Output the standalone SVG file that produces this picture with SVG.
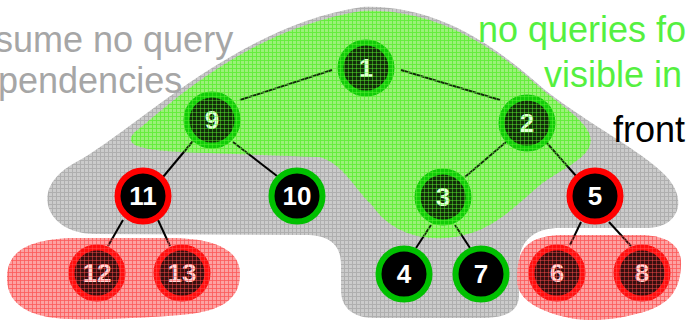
<svg xmlns="http://www.w3.org/2000/svg" width="686" height="326" viewBox="0 0 686 326">
  <defs>
    <pattern id="pGray" width="4" height="4" patternUnits="userSpaceOnUse">
      <rect width="4" height="4" fill="#cbcbcb"/>
      <path d="M0 0.5H4M0.5 0V4" stroke="#afafaf" stroke-width="1"/>
    </pattern>
    <pattern id="pGreenBase" width="4" height="4" patternUnits="userSpaceOnUse">
      <rect width="4" height="4" fill="#a6ee88"/>
      <path d="M0 0.5H4M0.5 0V4" stroke="#74e050" stroke-width="1"/>
    </pattern>
    <pattern id="pGreen" width="4" height="4" patternUnits="userSpaceOnUse">
      <rect width="4" height="4" fill="#66ff33" fill-opacity="0.18"/>
      <path d="M0 0.5H4M0.5 0V4" stroke="#5cf533" stroke-opacity="0.45" stroke-width="1"/>
    </pattern>
    <pattern id="pRedBase" width="4" height="4" patternUnits="userSpaceOnUse">
      <rect width="4" height="4" fill="#fbbcbc"/>
      <path d="M0 0.5H4M0.5 0V4" stroke="#f59090" stroke-width="1"/>
    </pattern>
    <pattern id="pRed" width="4" height="4" patternUnits="userSpaceOnUse">
      <rect width="4" height="4" fill="#ff4444" fill-opacity="0.22"/>
      <path d="M0 0.5H4M0.5 0V4" stroke="#ff4d4d" stroke-opacity="0.45" stroke-width="1"/>
    </pattern>
  </defs>
  <style>
    .edge { stroke: #000; stroke-width: 2; fill: none; }
    .n circle { stroke-width: 6; fill: #000; }
    .ng circle { stroke: #00c000; }
    .nr circle { stroke: #ff0000; }
    .n text { font-family: "Liberation Sans", Arial, sans-serif; font-weight: bold; font-size: 26px; fill: #fff; text-anchor: middle; }
    .big { font-family: "Liberation Sans", Arial, sans-serif; font-size: 36px; }
  </style>

  <!-- regions (base layers) -->
  <path id="grayRegion" fill="url(#pGray)" d="M 48,205 C 44,185 60,170 80,160 C 140,125 240,25 362,7 C 440,4 500,50 545,90 C 590,125 640,150 665,175 C 688,198 680,226 650,228 L 560,228 C 535,228 520,240 519,262 L 519,295 C 519,312 505,318 480,318 L 375,318 C 350,318 341,305 341,290 L 341,265 C 341,245 330,235 305,235 L 95,234 C 70,234 52,222 48,205 Z"/>
  <path id="greenRegionBase" fill="url(#pGreenBase)" d="M 135,132 C 170,105 245,30 362,11 C 440,8 500,52 545,92 C 575,115 595,130 590,145 C 585,160 560,170 540,185 C 510,210 490,235 445,238 C 410,240 385,225 372,205 C 355,190 345,165 320,157 L 180,152 C 140,150 122,145 135,132 Z"/>
  <path id="redRegionLeftBase" fill="url(#pRedBase)" d="M 7,278 C 7,250 30,240 70,238 L 170,238 C 215,238 240,250 240,274 C 240,300 220,312 180,315 C 140,318 100,320 70,319 C 30,318 7,305 7,278 Z"/>
  <path id="redRegionRightBase" fill="url(#pRedBase)" d="M 517,280 C 517,250 525,237 560,235 L 640,235 C 670,235 682,248 681,265 C 680,290 670,305 640,313 C 615,320 590,322 570,318 C 540,312 517,300 517,280 Z"/>

  <g id="connectors">
    <line class="edge" x1="240" y1="100" x2="332" y2="70"/>
    <line class="edge" x1="401" y1="70" x2="500" y2="100"/>
    <line class="edge" x1="193" y1="141" x2="163" y2="177"/>
    <line class="edge" x1="233" y1="142" x2="277" y2="176"/>
    <line class="edge" x1="506" y1="142" x2="465" y2="177"/>
    <line class="edge" x1="546" y1="142" x2="577" y2="177"/>
    <line class="edge" x1="123" y1="220" x2="108" y2="246"/>
    <line class="edge" x1="158" y1="220" x2="170" y2="246"/>
    <line class="edge" x1="431" y1="225" x2="416" y2="248"/>
    <line class="edge" x1="455" y1="225" x2="470" y2="248"/>
    <line class="edge" x1="581" y1="222" x2="570" y2="245"/>
    <line class="edge" x1="609" y1="222" x2="631" y2="246"/>
  </g>

  <g id="node1" class="n ng"><circle cx="366" cy="68" r="25.5"/><text x="366" y="77">1</text></g>
  <g id="node9" class="n ng"><circle cx="212" cy="120" r="25.5"/><text x="212" y="129">9</text></g>
  <g id="node2" class="n ng"><circle cx="527" cy="123" r="25.5"/><text x="527" y="132">2</text></g>
  <g id="node11" class="n nr"><circle cx="143" cy="196" r="25.5"/><text x="143" y="205">11</text></g>
  <g id="node10" class="n ng"><circle cx="297" cy="196" r="25.5"/><text x="297" y="205">10</text></g>
  <g id="node3" class="n ng"><circle cx="443" cy="197" r="25.5"/><text x="443" y="206">3</text></g>
  <g id="node5" class="n nr"><circle cx="595" cy="196" r="25.5"/><text x="595" y="205">5</text></g>
  <g id="node12" class="n nr"><circle cx="97" cy="273" r="25.5"/><text x="97" y="282">12</text></g>
  <g id="node13" class="n nr"><circle cx="182" cy="273" r="25.5"/><text x="182" y="282">13</text></g>
  <g id="node4" class="n ng"><circle cx="404" cy="274" r="25.5"/><text x="404" y="283">4</text></g>
  <g id="node7" class="n ng"><circle cx="481" cy="274" r="25.5"/><text x="481" y="283">7</text></g>
  <g id="node6" class="n nr"><circle cx="557" cy="273" r="25.5"/><text x="557" y="282">6</text></g>
  <g id="node8" class="n nr"><circle cx="642" cy="273" r="25.5"/><text x="642" y="282">8</text></g>

  <!-- translucent tints over the regions -->
  <path id="greenRegion" fill="url(#pGreen)" d="M 135,132 C 170,105 245,30 362,11 C 440,8 500,52 545,92 C 575,115 595,130 590,145 C 585,160 560,170 540,185 C 510,210 490,235 445,238 C 410,240 385,225 372,205 C 355,190 345,165 320,157 L 180,152 C 140,150 122,145 135,132 Z"/>
  <path id="redRegionLeft" fill="url(#pRed)" d="M 7,278 C 7,250 30,240 70,238 L 170,238 C 215,238 240,250 240,274 C 240,300 220,312 180,315 C 140,318 100,320 70,319 C 30,318 7,305 7,278 Z"/>
  <path id="redRegionRight" fill="url(#pRed)" d="M 517,280 C 517,250 525,237 560,235 L 640,235 C 670,235 682,248 681,265 C 680,290 670,305 640,313 C 615,320 590,322 570,318 C 540,312 517,300 517,280 Z"/>

  <g id="labels">
    <text class="big" x="-5" y="52" fill="#a6a6a6">sume no query</text>
    <text class="big" x="-2" y="93" fill="#a6a6a6">pendencies</text>
    <text class="big" x="478" y="42" fill="#55f040">no queries fo</text>
    <text class="big" x="544" y="87" fill="#55f040">visible in</text>
    <text class="big" x="613" y="142" fill="#000">front</text>
  </g>
</svg>
